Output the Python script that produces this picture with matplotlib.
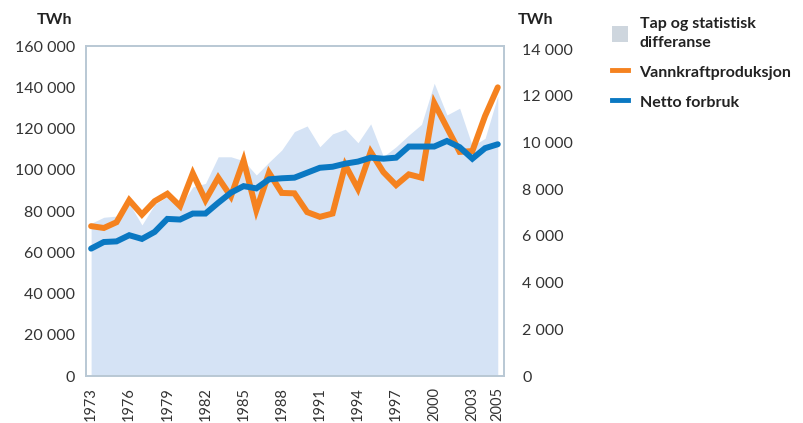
import matplotlib
matplotlib.use("Agg")
import matplotlib.pyplot as plt
from matplotlib.ticker import FuncFormatter
from matplotlib.patches import Patch
from matplotlib.lines import Line2D

plt.rcParams['font.family'] = ['Lato', 'DejaVu Sans']

# Data (TWh as labelled in the source chart)
years = list(range(1973, 2006))
netto_forbruk = [61800, 65000, 65300, 68300, 66500, 69900, 76200, 75900, 78800, 78800,
                 84000, 88900, 92100, 91000, 95400, 95900, 96200, 98600, 101000, 101500,
                 103000, 104000, 105900, 105400, 105900, 111300, 111300, 111300, 114000, 111000,
                 105400, 110500, 112400]
vannkraft = [72700, 71800, 74600, 85300, 78300, 84800, 88400, 82400, 98300, 85300,
             96200, 87100, 104600, 80400, 98600, 88800, 88600, 79500, 77200, 78800,
             102300, 90800, 108700, 98900, 92600, 97800, 96200, 132400, 120500, 108700,
             109100, 126100, 140000]
tap = [6540, 6800, 6850, 7400, 6470, 7350, 7680, 7250, 8100, 8250,
       9390, 9390, 9220, 8610, 9160, 9680, 10470, 10710, 9820, 10370,
       10570, 9990, 10800, 9400, 9820, 10320, 10780, 12540, 11180, 11470,
       9850, 10180, 12000]

left_ticks = list(range(0, 160001, 20000))
right_ticks = list(range(0, 14001, 2000))
x_labels = [1973, 1976, 1979, 1982, 1985, 1988, 1991, 1994, 1997, 2000, 2003, 2005]

blue = '#0a78c2'
orange = '#f5821f'
area = '#d5e3f5'
frame = '#b9c8d4'
txt = '#333333'

fig = plt.figure(figsize=(8.04, 4.23), dpi=100)
ax = fig.add_axes([0.107, 0.111, 0.520, 0.780])
ax2 = ax.twinx()

ax2.fill_between(years, 0, tap, color=area, linewidth=0)
ax.plot(years, vannkraft, color=orange, linewidth=4.3, solid_capstyle='round', solid_joinstyle='miter')
ax.plot(years, netto_forbruk, color=blue, linewidth=4.3, solid_capstyle='round', solid_joinstyle='miter')

# lines on top of the area
ax.set_zorder(ax2.get_zorder() + 1)
ax.patch.set_visible(False)

ax.set_xlim(1972.6, 2005.5)
ax.set_ylim(0, 160000)
ax2.set_ylim(0, 14130)

fmt = FuncFormatter(lambda v, p: f"{int(v):,}".replace(",", " "))
ax.set_yticks(left_ticks)
ax.yaxis.set_major_formatter(fmt)
ax2.set_yticks(right_ticks)
ax2.yaxis.set_major_formatter(fmt)
ax.set_xticks(x_labels)
ax.set_xticklabels([str(y) for y in x_labels], rotation=90)

for a in (ax, ax2):
    a.tick_params(length=0, labelsize=11.5, labelcolor=txt)
    for s in a.spines.values():
        s.set_color(frame)
        s.set_linewidth(1.2)
ax.tick_params(axis='y', pad=8)
ax2.tick_params(axis='y', pad=13)
ax.tick_params(axis='x', pad=8, labelsize=10.5)

fig.text(37 / 804, 1 - 20 / 423, "TWh", fontsize=11.5, fontweight='bold', color='#222222', va='center')
fig.text(518 / 804, 1 - 20 / 423, "TWh", fontsize=11.5, fontweight='bold', color='#222222', va='center')

handles = [Patch(facecolor='#ced6de', edgecolor='none'),
           Line2D([], [], color=orange, linewidth=3.5),
           Line2D([], [], color=blue, linewidth=3.5)]
labels = ["Tap og statistisk\ndifferanse", "Vannkraftproduksjon", "Netto forbruk"]
leg = fig.legend(handles, labels, loc='upper left', bbox_to_anchor=(598 / 804, 1 - 3 / 423),
                 frameon=False, fontsize=11.5, handlelength=1.0, handleheight=1.1,
                 handletextpad=0.7, labelspacing=0.85)
for t in leg.get_texts():
    t.set_fontweight('bold')
    t.set_color('#222222')
    t.set_linespacing(1.45)

fig.savefig("out.png", dpi=100)
